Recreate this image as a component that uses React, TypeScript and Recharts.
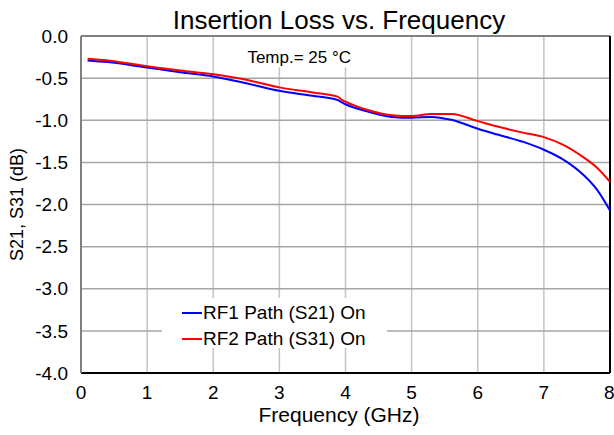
import React from 'react';
import { LineChart, Line, XAxis, YAxis, CartesianGrid, ReferenceArea, ReferenceLine, Customized } from 'recharts';

const freqGHz = [0.1, 0.4, 1.0, 1.5, 2.0, 2.5, 3.0, 3.5, 3.88, 3.95, 4.0, 4.3, 4.7, 5.0, 5.3, 5.6, 6.0, 6.3, 6.7, 7.0, 7.3, 7.6, 7.8, 8.0];
const s21 = [-0.29, -0.31, -0.375, -0.43, -0.48, -0.56, -0.65, -0.71, -0.76, -0.79, -0.81, -0.89, -0.96, -0.97, -0.96, -0.995, -1.10, -1.17, -1.26, -1.35, -1.47, -1.65, -1.82, -2.07];
const s31 = [-0.27, -0.29, -0.36, -0.41, -0.455, -0.52, -0.61, -0.67, -0.72, -0.76, -0.78, -0.87, -0.94, -0.95, -0.925, -0.925, -1.01, -1.075, -1.15, -1.20, -1.295, -1.44, -1.56, -1.73];
const xTicks = [0, 1, 2, 3, 4, 5, 6, 7, 8];
const yTicks = [-4, -3.5, -3, -2.5, -2, -1.5, -1, -0.5, 0];
const seriesNames = ['RF1 Path (S21) On', 'RF2 Path (S31) On'];
const seriesColors = ['#0000ff', '#ff0000'];

const data = freqGHz.map((f, i) => ({ f, s21: s21[i], s31: s31[i] }));

const FONT = '"Liberation Sans", Arial, sans-serif';

const YLabel = (props: any) => {
  const vb = props.viewBox || {};
  const x = 17;
  const y = (vb.y || 0) + (vb.height || 0) / 2;
  return (
    <text x={x} y={y} transform={`rotate(-90 ${x} ${y})`} textAnchor="middle" dominantBaseline="central" fontSize={18} fill="#000" fontFamily={FONT}>
      S21, S31 (dB)
    </text>
  );
};

const Overlay = () => (
  <g>
    <text x={339} y={29} textAnchor="middle" fontSize={26} fill="#000" fontFamily={FONT}>
      Insertion Loss vs. Frequency
    </text>
    <text x={339} y={422} textAnchor="middle" fontSize={21} fill="#000" fontFamily={FONT}>
      Frequency (GHz)
    </text>
  </g>
);

const LegendBox = () => (
  <div style={{ position: 'absolute', left: 162, top: 298, width: 225, height: 50, background: '#fff', paddingLeft: 20, paddingTop: 2, boxSizing: 'border-box', fontFamily: FONT, fontSize: 19 }}>
    {seriesNames.map((n, i) => (
      <div key={n} style={{ display: 'flex', alignItems: 'center', height: 26 }}>
        <span style={{ display: 'inline-block', width: 20, height: 2, background: seriesColors[i], marginRight: 1 }} />
        <span style={{ color: '#000', lineHeight: '26px' }}>{n}</span>
      </div>
    ))}
  </div>
);

export default function App() {
  return (
    <div style={{ position: 'absolute', left: 0, top: 0, width: 614, height: 435 }}>
      <LineChart width={614} height={435} data={data} margin={{ top: 36, right: 4, bottom: 0, left: 0 }}>
        <CartesianGrid horizontal={false} stroke="#c4c4c4" strokeWidth={1.5} />
        <CartesianGrid vertical={false} stroke="#a6a6a6" strokeWidth={1.5} />
        <XAxis
          dataKey="f"
          type="number"
          domain={[0, 8]}
          ticks={xTicks}
          tickLine={false}
          tickMargin={7}
          height={62}
          axisLine={{ stroke: '#000', strokeWidth: 2 }}
          tick={{ fill: '#000', fontSize: 19, fontFamily: FONT }}
        />
        <YAxis
          type="number"
          domain={[-4, 0]}
          ticks={yTicks}
          tickLine={false}
          tickMargin={7}
          width={81}
          axisLine={{ stroke: '#808080', strokeWidth: 2 }}
          tick={{ fill: '#000', fontSize: 19, fontFamily: FONT }}
          tickFormatter={(v: number) => v.toFixed(1)}
          label={<YLabel />}
        />
        <ReferenceArea
          x1={2.45}
          x2={4.15}
          y1={-0.37}
          y2={-0.015}
          fill="#fff"
          fillOpacity={1}
          stroke="none"
          ifOverflow="visible"
          label={{ value: 'Temp.= 25 °C', position: 'center', fill: '#000', fontSize: 17, fontFamily: FONT, dy: 5 }}
        />
        <ReferenceLine y={0} stroke="#808080" strokeWidth={2} />
        <ReferenceLine x={8} stroke="#000" strokeWidth={2} />
        <Line type="monotone" dataKey="s21" name={seriesNames[0]} stroke={seriesColors[0]} strokeWidth={2} dot={false} isAnimationActive={false} />
        <Line type="monotone" dataKey="s31" name={seriesNames[1]} stroke={seriesColors[1]} strokeWidth={2} dot={false} isAnimationActive={false} />
        <Customized component={Overlay} />
      </LineChart>
      <LegendBox />
    </div>
  );
}
